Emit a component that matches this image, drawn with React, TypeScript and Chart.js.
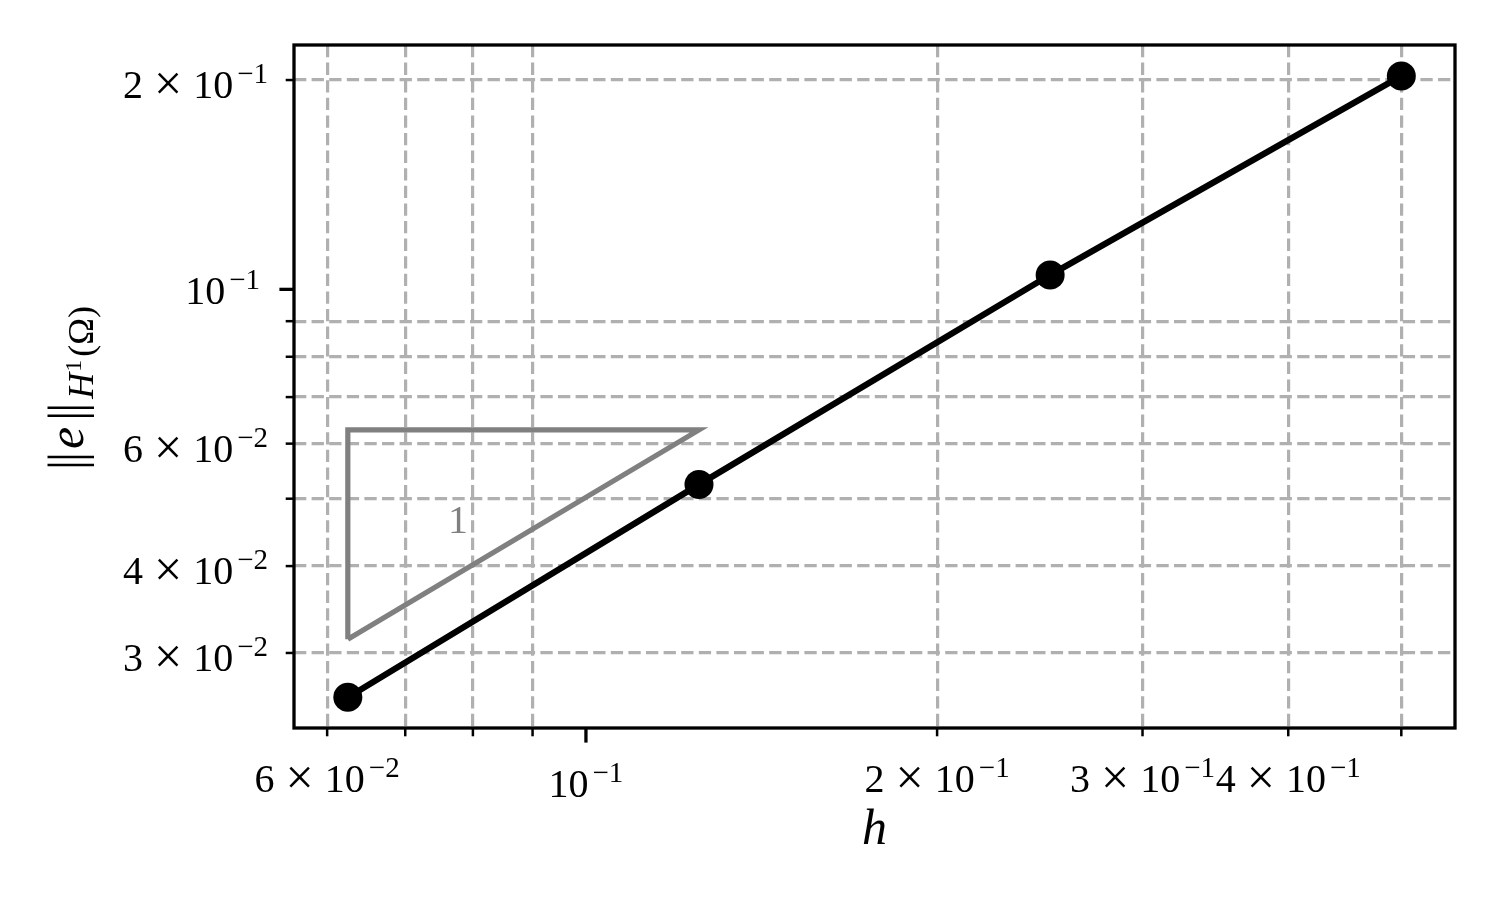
import React, { useEffect, useRef } from 'react';
import { Chart, registerables } from 'chart.js';

Chart.register(...registerables);

// ---- data ----
const hValues = [0.0625, 0.125, 0.25, 0.5];
const errValues = [0.0259, 0.0524, 0.1049, 0.2027];

const triangleX = [0.0625, 0.125, 0.0625, 0.0625];
const triangleY = [0.0314, 0.0628, 0.0628, 0.0314];
const slopeText = '1';
const slopeTextX = 0.0777;
const slopeTextY = 0.0466;

const xMin = 0.0562;
const xMax = 0.5559;
const yMin = 0.0234;
const yMax = 0.2246;

const xTickValues = [0.06, 0.07, 0.08, 0.09, 0.1, 0.2, 0.3, 0.4, 0.5];
const yTickValues = [0.03, 0.04, 0.05, 0.06, 0.07, 0.08, 0.09, 0.1, 0.2];
const majorTickValues = [0.1];

const xLabelValues = [0.06, 0.1, 0.2, 0.3, 0.4];
const xLabelMantissas = ['6', '', '2', '3', '4'];
const xLabelExponents = ['\u22122', '\u22121', '\u22121', '\u22121', '\u22121'];

const yLabelValues = [0.2, 0.1, 0.06, 0.04, 0.03];
const yLabelMantissas = ['2', '', '6', '4', '3'];
const yLabelExponents = ['\u22121', '\u22121', '\u22122', '\u22122', '\u22122'];

const xTitle = 'h';

const SERIF = '"Liberation Serif", "DejaVu Serif", serif';
const GRID_COLOR = '#b0b0b0';
const TRI_COLOR = '#808080';

const isMajor = (v: number) => majorTickValues.some((m) => Math.abs(m - v) < 1e-12);

function drawSci(
  ctx: CanvasRenderingContext2D,
  mant: string,
  exp: string,
  x: number,
  baseY: number,
  align: 'center' | 'right'
) {
  const big = `40px ${SERIF}`;
  const times = `50px ${SERIF}`;
  const small = `29px ${SERIF}`;
  const parts: { t: string; f: string; dy: number; adv: number }[] = [];
  if (mant) {
    ctx.font = big;
    const wm = ctx.measureText(mant).width;
    parts.push({ t: mant, f: big, dy: 0, adv: wm + 11 });
    ctx.font = times;
    const wx = ctx.measureText('\u00d7').width;
    parts.push({ t: '\u00d7', f: times, dy: 2, adv: wx + 11 });
  }
  ctx.font = big;
  const w10 = ctx.measureText('10').width;
  parts.push({ t: '10', f: big, dy: 0, adv: w10 + 4 });
  ctx.font = small;
  const we = ctx.measureText(exp).width;
  const total = parts.reduce((a, p) => a + p.adv, 0) + we;
  let cx = align === 'center' ? x - total / 2 : x - total;
  ctx.textAlign = 'left';
  ctx.textBaseline = 'alphabetic';
  parts.forEach((p) => {
    ctx.font = p.f;
    ctx.fillText(p.t, cx, baseY + p.dy);
    cx += p.adv;
  });
  ctx.font = small;
  ctx.fillText(exp, cx, baseY - 15);
}

const decorPlugin = {
  id: 'decor',
  afterDraw(chart: any) {
    const ctx: CanvasRenderingContext2D = chart.ctx;
    const { left, right, top, bottom } = chart.chartArea;
    const xs = chart.scales.x;
    const ys = chart.scales.y;
    ctx.save();

    // frame
    ctx.strokeStyle = '#000';
    ctx.lineWidth = 3.3;
    ctx.setLineDash([]);
    ctx.strokeRect(left, top, right - left, bottom - top);

    // tick marks
    ctx.lineCap = 'butt';
    xTickValues.forEach((v) => {
      const px = xs.getPixelForValue(v);
      const major = isMajor(v);
      ctx.lineWidth = major ? 3.3 : 2.5;
      ctx.beginPath();
      ctx.moveTo(px, bottom);
      ctx.lineTo(px, bottom + (major ? 14.6 : 8.3));
      ctx.stroke();
    });
    yTickValues.forEach((v) => {
      const py = ys.getPixelForValue(v);
      const major = isMajor(v);
      ctx.lineWidth = major ? 3.3 : 2.5;
      ctx.beginPath();
      ctx.moveTo(left, py);
      ctx.lineTo(left - (major ? 14.6 : 8.3), py);
      ctx.stroke();
    });

    // tick labels
    ctx.fillStyle = '#000';
    xLabelValues.forEach((v, i) => {
      const px = xs.getPixelForValue(v);
      const major = isMajor(v);
      drawSci(ctx, xLabelMantissas[i], xLabelExponents[i], px, bottom + (major ? 69 : 64), 'center');
    });
    yLabelValues.forEach((v, i) => {
      const py = ys.getPixelForValue(v);
      const major = isMajor(v);
      drawSci(ctx, yLabelMantissas[i], yLabelExponents[i], left - (major ? 34 : 26), py + (major ? 15 : 18), 'right');
    });

    // x title
    ctx.font = `italic 50px ${SERIF}`;
    ctx.textAlign = 'center';
    ctx.textBaseline = 'alphabetic';
    ctx.fillText(xTitle, (left + right) / 2, 844);

    // y title: ||e||_{H^1(Omega)}
    type Seg = { t: string; f: string; dy: number; adv: (w: number) => number; bar?: boolean };
    const segs: Seg[] = [
      { t: '|', f: `50px ${SERIF}`, dy: 0, adv: () => 24, bar: true },
      { t: 'e', f: `italic 50px ${SERIF}`, dy: 0, adv: (w) => w + 3 },
      { t: '|', f: `50px ${SERIF}`, dy: 0, adv: () => 25, bar: true },
      { t: 'H', f: `italic 36px ${SERIF}`, dy: 10, adv: (w) => w + 1 },
      { t: '1', f: `24px ${SERIF}`, dy: -2, adv: (w) => w + 3 },
      { t: '(\u03a9)', f: `36px ${SERIF}`, dy: 10, adv: (w) => w },
    ];
    const advs = segs.map((s) => {
      ctx.font = s.f;
      return s.adv(ctx.measureText(s.t).width);
    });
    const total = advs.reduce((a, b) => a + b, 0);
    ctx.translate(83, (top + bottom) / 2 + 3);
    ctx.rotate(-Math.PI / 2);
    ctx.textAlign = 'left';
    let cx = -total / 2;
    segs.forEach((s, i) => {
      ctx.font = s.f;
      if (s.bar) {
        ctx.fillText(s.t, cx + 3, s.dy);
        ctx.fillText(s.t, cx + 11, s.dy);
      } else {
        ctx.fillText(s.t, cx, s.dy);
      }
      cx += advs[i];
    });
    ctx.setTransform(1, 0, 0, 1, 0, 0);

    // slope label
    ctx.fillStyle = TRI_COLOR;
    ctx.font = `40px ${SERIF}`;
    ctx.textAlign = 'center';
    ctx.textBaseline = 'alphabetic';
    ctx.fillText(slopeText, xs.getPixelForValue(slopeTextX), ys.getPixelForValue(slopeTextY) + 13);

    ctx.restore();
  },
};

export default function App() {
  const ref = useRef<HTMLCanvasElement | null>(null);
  useEffect(() => {
    if (!ref.current) return;
    const gridColor = (c: any) => (isMajor(c.tick?.value) ? 'rgba(0,0,0,0)' : GRID_COLOR);
    const chart = new Chart(ref.current, {
      type: 'line',
      data: {
        datasets: [
          {
            label: 'triangle',
            data: triangleX.map((x, i) => ({ x, y: triangleY[i] })),
            borderColor: TRI_COLOR,
            borderWidth: 5.2,
            pointRadius: 0,
            borderJoinStyle: 'miter',
            fill: false,
            tension: 0,
          },
          {
            label: 'error',
            data: hValues.map((x, i) => ({ x, y: errValues[i] })),
            borderColor: '#000',
            backgroundColor: '#000',
            borderWidth: 6.25,
            pointRadius: 14.5,
            pointHoverRadius: 14.5,
            pointBackgroundColor: '#000',
            pointBorderWidth: 0,
            fill: false,
            tension: 0,
          },
        ],
      },
      options: {
        animation: false,
        responsive: false,
        devicePixelRatio: 1,
        events: [],
        layout: { padding: { left: 294, top: 45, right: 45, bottom: 172 } },
        plugins: { legend: { display: false }, tooltip: { enabled: false } },
        scales: {
          x: {
            type: 'logarithmic',
            min: xMin,
            max: xMax,
            afterBuildTicks: (s: any) => {
              s.ticks = xTickValues.map((value) => ({ value }));
            },
            ticks: { display: false },
            grid: { color: gridColor, lineWidth: 3.2, drawTicks: false },
            border: { display: false, dash: [12.3, 5.3] },
            title: { display: false },
          },
          y: {
            type: 'logarithmic',
            min: yMin,
            max: yMax,
            afterBuildTicks: (s: any) => {
              s.ticks = yTickValues.map((value) => ({ value }));
            },
            ticks: { display: false },
            grid: { color: gridColor, lineWidth: 3.2, drawTicks: false },
            border: { display: false, dash: [12.3, 5.3] },
            title: { display: false },
          },
        },
      } as any,
      plugins: [decorPlugin],
    });
    return () => chart.destroy();
  }, []);
  return (
    <div style={{ position: 'fixed', left: 0, top: 0, width: 1500, height: 900, background: '#fff' }}>
      <canvas ref={ref} width={1500} height={900} style={{ display: 'block', width: 1500, height: 900 }} />
    </div>
  );
}
